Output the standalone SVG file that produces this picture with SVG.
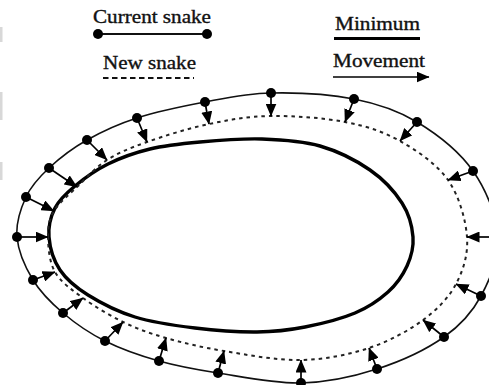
<svg xmlns="http://www.w3.org/2000/svg" width="489" height="385" viewBox="0 0 489 385">
<style>
.lbl{font-family:"Liberation Serif","Times New Roman",serif;font-size:18px;fill:#111;stroke:#111;stroke-width:0.35}
.cur{fill:none;stroke:#111;stroke-width:1.6}
.new{fill:none;stroke:#222;stroke-width:2;stroke-dasharray:3.5 4}
.min{fill:none;stroke:#000;stroke-width:3.4}
.node{fill:#000}
.mv{stroke:#000;stroke-width:1.7;fill:none;marker-end:url(#ah)}
.art{fill:#d8d8d8}
</style>
<defs>
<marker id="ah" markerUnits="userSpaceOnUse" viewBox="0 0 13 11" refX="12.5" refY="5.5" markerWidth="13" markerHeight="11" orient="auto">
<path d="M0,0 L13,5.5 L0,11 z" fill="#000"/>
</marker>
</defs>
<rect width="489" height="385" fill="#fff"/>
<g id="artifacts">
<rect class="art" x="0" y="27" width="2.5" height="15"/>
<rect class="art" x="0" y="92" width="2.5" height="28"/>
<rect class="art" x="0" y="162" width="2.5" height="18"/>
</g>
<g id="legend-current">
<text class="lbl" x="93" y="23" textLength="118" lengthAdjust="spacingAndGlyphs">Current snake</text>
<line x1="98" y1="34" x2="207" y2="34" stroke="#111" stroke-width="2"/>
<circle class="node" cx="98" cy="34" r="5"/>
<circle class="node" cx="207" cy="34" r="5"/>
</g>
<g id="legend-new">
<text class="lbl" x="103" y="69" textLength="93" lengthAdjust="spacingAndGlyphs">New snake</text>
<line x1="103" y1="78" x2="194" y2="78" stroke="#111" stroke-width="2.2" stroke-dasharray="5.5 3.5"/>
</g>
<g id="legend-minimum">
<text class="lbl" x="335" y="30" textLength="85" lengthAdjust="spacingAndGlyphs">Minimum</text>
<line x1="334" y1="38.5" x2="420" y2="38.5" stroke="#000" stroke-width="3.2"/>
</g>
<g id="legend-movement">
<text class="lbl" x="333" y="67" textLength="92" lengthAdjust="spacingAndGlyphs">Movement</text>
<line class="mv" x1="333" y1="77" x2="429" y2="77" stroke-width="2"/>
</g>
<g id="minimum-contour">
<path class="min" d="M49,237 C48.2,226.7 50.7,216.5 55,208 C59.3,199.5 66.2,193.3 75,186 C83.8,178.7 95.5,170.2 108,164 C120.5,157.8 134.7,152.7 150,149 C165.3,145.3 181.3,143.7 200,142 C218.7,140.3 242,138.3 262,139 C282,139.7 302,140.8 320,146 C338,151.2 356.3,160.5 370,170 C383.7,179.5 394.8,191.8 402,203 C409.2,214.2 412.2,226.5 413,237 C413.8,247.5 411.2,256.8 407,266 C402.8,275.2 396.7,284.2 388,292 C379.3,299.8 368.8,307.2 355,313 C341.2,318.8 321.3,323.8 305,327 C288.7,330.2 275.3,331.8 257,332 C238.7,332.2 215.3,330.5 195,328 C174.7,325.5 152.8,322.5 135,317 C117.2,311.5 100.5,302.8 88,295 C75.5,287.2 66.5,279.7 60,270 C53.5,260.3 49.8,247.3 49,237 Z"/>
</g>
<g id="new-snake">
<path class="new" d="M48,237 C47.8,226.8 49.2,219.3 54,211 C58.8,202.7 68.2,195.5 77,187 C85.8,178.5 95.3,167.5 107,160 C118.7,152.5 130,148 147,142 C164,136 188.3,128.3 209,124 C229.7,119.7 248.3,116.3 271,116 C293.7,115.7 323.5,117.8 345,122 C366.5,126.2 382.8,131.3 400,141 C417.2,150.7 436.8,164 448,180 C459.2,196 465.7,219.7 467,237 C468.3,254.3 463.3,270.2 456,284 C448.7,297.8 437.5,309.3 423,320 C408.5,330.7 389.3,341.3 369,348 C348.7,354.7 325.2,359.5 301,360 C276.8,360.5 246.5,354.7 224,351 C201.5,347.3 182.8,342.8 166,338 C149.2,333.2 136.8,328.7 123,322 C109.2,315.3 94.3,306.3 83,298 C71.7,289.7 60.8,282.2 55,272 C49.2,261.8 48.2,247.2 48,237 Z"/>
</g>
<g id="current-snake">
<path class="cur" d="M17,237 C15.8,223.2 20.7,208.5 26,197 C31.3,185.5 38.8,177.5 49,168 C59.2,158.5 72.3,148.3 87,140 C101.7,131.7 117.3,124.3 137,118 C156.7,111.7 182.7,106.2 205,102 C227.3,97.8 246.2,93.5 271,93 C295.8,92.5 329.7,94.2 354,99 C378.3,103.8 397.2,110 417,122 C436.8,134 459.5,151.8 473,171 C486.5,190.2 496.7,216.2 498,237 C499.3,257.8 490,279.3 481,296 C472,312.7 461.3,324.8 444,337 C426.7,349.2 400.8,361.3 377,369 C353.2,376.7 327.5,382.3 301,383 C274.5,383.7 241.7,376.7 218,373 C194.3,369.3 177.8,366.3 159,361 C140.2,355.7 121,349 105,341 C89,333 75,323.2 63,313 C51,302.8 40.7,292.7 33,280 C25.3,267.3 18.2,250.8 17,237 Z"/>
</g>
<g id="connectors">
<line class="mv" x1="17" y1="237" x2="48" y2="237"/>
<line class="mv" x1="26" y1="197" x2="54" y2="211"/>
<line class="mv" x1="49" y1="168" x2="77" y2="187"/>
<line class="mv" x1="87" y1="140" x2="107" y2="160"/>
<line class="mv" x1="137" y1="118" x2="147" y2="142"/>
<line class="mv" x1="205" y1="102" x2="209" y2="124"/>
<line class="mv" x1="271" y1="93" x2="271" y2="116"/>
<line class="mv" x1="354" y1="99" x2="345" y2="122"/>
<line class="mv" x1="417" y1="122" x2="400" y2="141"/>
<line class="mv" x1="473" y1="171" x2="448" y2="180"/>
<line class="mv" x1="498" y1="237" x2="467" y2="237"/>
<line class="mv" x1="481" y1="296" x2="456" y2="284"/>
<line class="mv" x1="444" y1="337" x2="423" y2="320"/>
<line class="mv" x1="377" y1="369" x2="369" y2="348"/>
<line class="mv" x1="301" y1="383" x2="301" y2="360"/>
<line class="mv" x1="218" y1="373" x2="224" y2="351"/>
<line class="mv" x1="159" y1="361" x2="166" y2="338"/>
<line class="mv" x1="105" y1="341" x2="123" y2="322"/>
<line class="mv" x1="63" y1="313" x2="83" y2="298"/>
<line class="mv" x1="33" y1="280" x2="55" y2="272"/>
</g>
<g id="snake-points">
<circle class="node" cx="17" cy="237" r="5"/>
<circle class="node" cx="26" cy="197" r="5"/>
<circle class="node" cx="49" cy="168" r="5"/>
<circle class="node" cx="87" cy="140" r="5"/>
<circle class="node" cx="137" cy="118" r="5"/>
<circle class="node" cx="205" cy="102" r="5"/>
<circle class="node" cx="271" cy="93" r="5"/>
<circle class="node" cx="354" cy="99" r="5"/>
<circle class="node" cx="417" cy="122" r="5"/>
<circle class="node" cx="473" cy="171" r="5"/>
<circle class="node" cx="498" cy="237" r="5"/>
<circle class="node" cx="481" cy="296" r="5"/>
<circle class="node" cx="444" cy="337" r="5"/>
<circle class="node" cx="377" cy="369" r="5"/>
<circle class="node" cx="301" cy="383" r="5"/>
<circle class="node" cx="218" cy="373" r="5"/>
<circle class="node" cx="159" cy="361" r="5"/>
<circle class="node" cx="105" cy="341" r="5"/>
<circle class="node" cx="63" cy="313" r="5"/>
<circle class="node" cx="33" cy="280" r="5"/>
</g>
</svg>
